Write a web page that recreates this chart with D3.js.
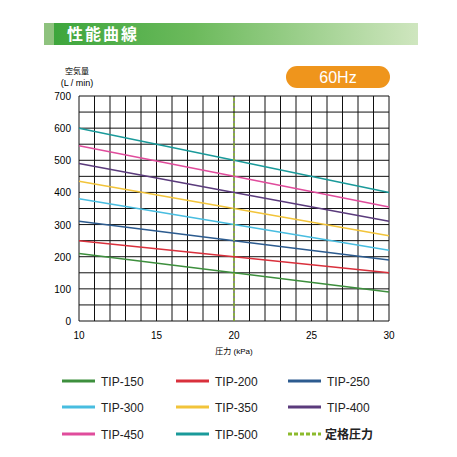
<!DOCTYPE html>
<html><head><meta charset="utf-8">
<script src="https://cdn.jsdelivr.net/npm/d3@7"></script>
<style>body{margin:0;background:#fff;font-family:"Liberation Sans","Noto Sans CJK JP",sans-serif}</style>
</head><body><div id="chart"></div>
<script>
var pressures = [10, 20, 30];
var models = ["TIP-150","TIP-200","TIP-250","TIP-300","TIP-350","TIP-400","TIP-450","TIP-500"];
var flows = [
  [210,150,90],[250,200,150],[310,250,190],[380,300,220],
  [435,350,265],[490,400,310],[545,450,355],[600,500,400]
];
var colors = ["#3d8f3d","#d9303c","#2c5b8f","#48bde0","#f2c43a","#5b3b7c","#e04c9c","#1a9a9a"];
var ratedPressure = 20;
var xTicks = [10,15,20,25,30];
var yTicks = [0,100,200,300,400,500,600,700];

var svg = d3.select("#chart").append("svg").attr("width",457).attr("height",457);

// header band
var grad = svg.append("defs").append("linearGradient").attr("id","hg");
grad.append("stop").attr("offset","0").attr("stop-color","#3aa43a");
grad.append("stop").attr("offset","0.4").attr("stop-color","#6cba5c");
grad.append("stop").attr("offset","1").attr("stop-color","#cfe6bf");
svg.append("rect").attr("x",44).attr("y",23).attr("width",374).attr("height",22).attr("fill","url(#hg)");
svg.append("rect").attr("x",44).attr("y",23).attr("width",10).attr("height",22).attr("fill","#8ec27e");
svg.append("text").attr("x",67).attr("y",40).attr("fill","#fff").attr("font-size",16).attr("font-weight","bold")
  .attr("letter-spacing",2).text("性能曲線");

// 60Hz badge
svg.append("rect").attr("x",286).attr("y",66).attr("width",104).attr("height",22).attr("rx",11).attr("fill","#ef951c");
svg.append("text").attr("x",338).attr("y",83).attr("text-anchor","middle").attr("fill","#fff").attr("font-size",16).text("60Hz");

var x = d3.scaleLinear().domain([10,30]).range([79,389]);
var y = d3.scaleLinear().domain([0,700]).range([321,96]);

// grid
var g = svg.append("g");
d3.range(10,31,1).forEach(function(v){
  g.append("line").attr("x1",x(v)).attr("x2",x(v)).attr("y1",y(0)).attr("y2",y(700)).attr("stroke","#111").attr("stroke-width",1);
});
d3.range(0,701,50).forEach(function(v){
  g.append("line").attr("x1",x(10)).attr("x2",x(30)).attr("y1",y(v)).attr("y2",y(v)).attr("stroke","#111").attr("stroke-width",1);
});

svg.append("g").selectAll("text").data(xTicks).enter().append("text")
  .attr("x",d=>x(d)).attr("y",339).attr("text-anchor","middle").attr("font-size",10).text(d=>d);
svg.append("g").selectAll("text").data(yTicks).enter().append("text")
  .attr("x",71).attr("y",d=>y(d)+4).attr("text-anchor","end").attr("font-size",10).text(d=>d);

svg.append("text").attr("x",77).attr("y",74).attr("text-anchor","middle").attr("font-size",8).text("空気量");
svg.append("text").attr("x",77).attr("y",86).attr("text-anchor","middle").attr("font-size",9).text("(L / min)");
svg.append("text").attr("x",234).attr("y",354).attr("text-anchor","middle").attr("font-size",8).text("圧力 (kPa)");

// curves
var line = d3.line().x((d,i)=>x(pressures[i])).y(d=>y(d));
svg.append("g").selectAll("path").data(flows).enter().append("path")
  .attr("d",line).attr("fill","none").attr("stroke",(d,i)=>colors[i]).attr("stroke-width",1.5);

// rated pressure line
svg.append("line").attr("x1",x(ratedPressure)).attr("x2",x(ratedPressure)).attr("y1",y(0)).attr("y2",y(700))
  .attr("stroke","#8cba2c").attr("stroke-width",1.5).attr("stroke-dasharray","3,2");

// legend
var items = models.map((m,i)=>({name:m,color:colors[i],dash:false}));
items.push({name:"定格圧力",color:"#8cba2c",dash:true});
var lg = svg.append("g").selectAll("g").data(items).enter().append("g")
  .attr("transform",(d,i)=>"translate("+[62,176,288][i%3]+","+[381,407,434][Math.floor(i/3)]+")");
lg.append("line").attr("x1",0).attr("x2",33).attr("stroke",d=>d.color).attr("stroke-width",3)
  .attr("stroke-dasharray",d=>d.dash?"4,2":null);
lg.append("text").attr("x",d=>d.dash?37:39).attr("y",5).attr("font-size",12)
  .attr("font-weight",d=>d.dash?"bold":null).attr("fill","#222").text(d=>d.name);
</script></body></html>
